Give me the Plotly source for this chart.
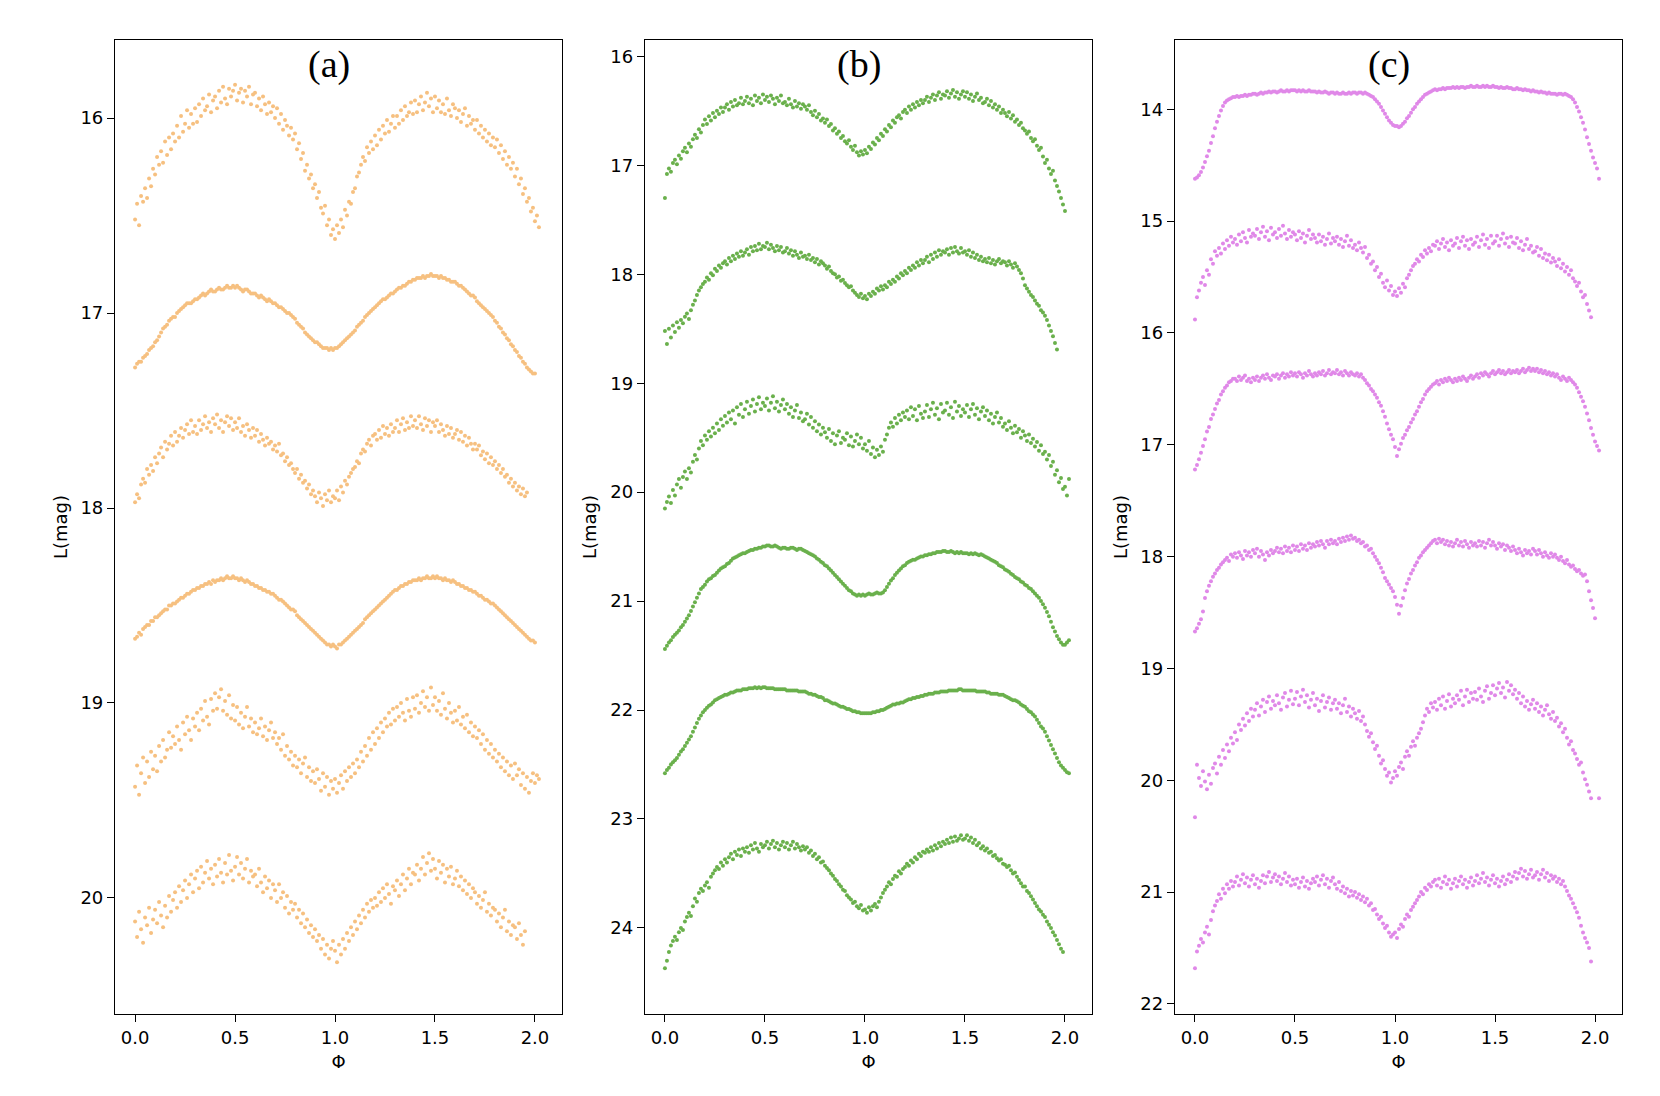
import plotly.graph_objects as go

# phase grid (two cycles, step 0.01)
phase = [0.00, 0.01, 0.02, 0.03, 0.04, 0.05, 0.06, 0.07, 0.08, 0.09,
         0.10, 0.11, 0.12, 0.13, 0.14, 0.15, 0.16, 0.17, 0.18, 0.19,
         0.20, 0.21, 0.22, 0.23, 0.24, 0.25, 0.26, 0.27, 0.28, 0.29,
         0.30, 0.31, 0.32, 0.33, 0.34, 0.35, 0.36, 0.37, 0.38, 0.39,
         0.40, 0.41, 0.42, 0.43, 0.44, 0.45, 0.46, 0.47, 0.48, 0.49,
         0.50, 0.51, 0.52, 0.53, 0.54, 0.55, 0.56, 0.57, 0.58, 0.59,
         0.60, 0.61, 0.62, 0.63, 0.64, 0.65, 0.66, 0.67, 0.68, 0.69,
         0.70, 0.71, 0.72, 0.73, 0.74, 0.75, 0.76, 0.77, 0.78, 0.79,
         0.80, 0.81, 0.82, 0.83, 0.84, 0.85, 0.86, 0.87, 0.88, 0.89,
         0.90, 0.91, 0.92, 0.93, 0.94, 0.95, 0.96, 0.97, 0.98, 0.99,
         1.00, 1.01, 1.02, 1.03, 1.04, 1.05, 1.06, 1.07, 1.08, 1.09,
         1.10, 1.11, 1.12, 1.13, 1.14, 1.15, 1.16, 1.17, 1.18, 1.19,
         1.20, 1.21, 1.22, 1.23, 1.24, 1.25, 1.26, 1.27, 1.28, 1.29,
         1.30, 1.31, 1.32, 1.33, 1.34, 1.35, 1.36, 1.37, 1.38, 1.39,
         1.40, 1.41, 1.42, 1.43, 1.44, 1.45, 1.46, 1.47, 1.48, 1.49,
         1.50, 1.51, 1.52, 1.53, 1.54, 1.55, 1.56, 1.57, 1.58, 1.59,
         1.60, 1.61, 1.62, 1.63, 1.64, 1.65, 1.66, 1.67, 1.68, 1.69,
         1.70, 1.71, 1.72, 1.73, 1.74, 1.75, 1.76, 1.77, 1.78, 1.79,
         1.80, 1.81, 1.82, 1.83, 1.84, 1.85, 1.86, 1.87, 1.88, 1.89,
         1.90, 1.91, 1.92, 1.93, 1.94, 1.95, 1.96, 1.97, 1.98, 1.99,
         2.00, 2.01, 2.02]

# panel (a)
a1 = [16.52, 16.44, 16.55, 16.40, 16.43, 16.36, 16.41, 16.31, 16.35, 16.26,
      16.29, 16.20, 16.24, 16.17, 16.23, 16.12, 16.19, 16.10, 16.16, 16.08,
      16.12, 16.04, 16.10, 15.99, 16.07, 16.03, 15.96, 16.05, 15.98, 16.03,
      15.95, 16.02, 15.93, 15.99, 15.90, 15.96, 15.94, 15.88, 15.97, 15.91,
      15.89, 15.95, 15.86, 15.92, 15.84, 15.90, 15.93, 15.85, 15.89, 15.86,
      15.83, 15.91, 15.87, 15.85, 15.92, 15.86, 15.89, 15.84, 15.93, 15.88,
      15.87, 15.94, 15.90, 15.96, 15.89, 15.93, 15.98, 15.92, 15.97, 15.94,
      16.00, 15.95, 16.03, 15.98, 16.06, 16.01, 16.04, 16.09, 16.05, 16.11,
      16.08, 16.16, 16.13, 16.21, 16.18, 16.27, 16.24, 16.31, 16.29, 16.36,
      16.34, 16.41, 16.38, 16.46, 16.49, 16.45, 16.55, 16.52, 16.60, 16.57,
      16.62, 16.55, 16.59, 16.52, 16.56, 16.47, 16.50, 16.43, 16.44, 16.38,
      16.36, 16.30, 16.28, 16.24, 16.20, 16.22, 16.15, 16.18, 16.12, 16.16,
      16.09, 16.14, 16.06, 16.11, 16.04, 16.08, 16.01, 16.07, 16.03, 15.99,
      16.05, 15.99, 16.03, 15.96, 16.01, 15.94, 15.99, 15.97, 15.92, 15.98,
      15.91, 15.97, 15.93, 15.89, 15.96, 15.92, 15.87, 15.94, 15.90, 15.97,
      15.89, 15.95, 15.91, 15.97, 15.93, 15.98, 15.90, 15.96, 15.99, 15.93,
      15.95, 16.00, 15.96, 16.02, 15.98, 15.95, 16.04, 15.99, 16.03, 16.01,
      16.06, 16.01, 16.08, 16.04, 16.10, 16.06, 16.12, 16.08, 16.14, 16.10,
      16.15, 16.11, 16.18, 16.14, 16.21, 16.17, 16.24, 16.20, 16.26, 16.23,
      16.30, 16.26, 16.34, 16.31, 16.39, 16.36, 16.43, 16.41, 16.48, 16.46,
      16.53, 16.50, 16.56]
a2 = [17.28, 17.26, 17.25, 17.25, 17.23, 17.22, 17.21, 17.19, 17.18, 17.17,
      17.15, 17.14, 17.12, 17.10, 17.08, 17.07, 17.06, 17.04, 17.03, 17.02,
      17.02, 17.00, 16.99, 16.98, 16.97, 16.96, 16.95, 16.95, 16.95, 16.94,
      16.93, 16.93, 16.92, 16.91, 16.90, 16.91, 16.90, 16.89, 16.88, 16.89,
      16.89, 16.88, 16.87, 16.88, 16.88, 16.87, 16.86, 16.87, 16.87, 16.86,
      16.87, 16.86, 16.87, 16.88, 16.89, 16.88, 16.88, 16.89, 16.90, 16.90,
      16.90, 16.91, 16.92, 16.91, 16.92, 16.93, 16.94, 16.93, 16.94, 16.95,
      16.95, 16.96, 16.97, 16.97, 16.98, 16.99, 17.00, 17.00, 17.01, 17.02,
      17.03, 17.05, 17.06, 17.07, 17.08, 17.10, 17.11, 17.12, 17.13, 17.14,
      17.15, 17.15, 17.16, 17.17, 17.18, 17.18, 17.18, 17.19, 17.18, 17.19,
      17.18, 17.18, 17.17, 17.16, 17.15, 17.14, 17.13, 17.12, 17.11, 17.10,
      17.09, 17.07, 17.06, 17.05, 17.04, 17.02, 17.01, 17.00, 16.99, 16.98,
      16.97, 16.96, 16.95, 16.94, 16.93, 16.93, 16.92, 16.91, 16.90, 16.90,
      16.89, 16.88, 16.87, 16.87, 16.86, 16.86, 16.85, 16.84, 16.84, 16.83,
      16.83, 16.82, 16.82, 16.82, 16.81, 16.82, 16.81, 16.81, 16.80, 16.81,
      16.81, 16.81, 16.82, 16.81, 16.82, 16.82, 16.83, 16.83, 16.84, 16.84,
      16.84, 16.85, 16.86, 16.86, 16.87, 16.88, 16.89, 16.90, 16.91, 16.91,
      16.92, 16.94, 16.95, 16.96, 16.97, 16.98, 16.99, 17.00, 17.01, 17.02,
      17.04, 17.05, 17.07, 17.08, 17.10, 17.11, 17.13, 17.14, 17.16, 17.17,
      17.19, 17.20, 17.22, 17.23, 17.25, 17.26, 17.28, 17.29, 17.30, 17.31,
      17.31, None, None]
a3 = [17.97, 17.93, 17.95, 17.88, 17.85, 17.87, 17.80, 17.83, 17.78, 17.81,
      17.74, 17.77, 17.72, 17.69, 17.74, 17.66, 17.70, 17.67, 17.63, 17.68,
      17.61, 17.66, 17.63, 17.59, 17.64, 17.60, 17.57, 17.62, 17.55, 17.61,
      17.58, 17.62, 17.55, 17.60, 17.57, 17.53, 17.59, 17.56, 17.61, 17.54,
      17.57, 17.52, 17.59, 17.55, 17.61, 17.56, 17.53, 17.58, 17.54, 17.60,
      17.56, 17.59, 17.54, 17.61, 17.58, 17.63, 17.57, 17.60, 17.64, 17.59,
      17.63, 17.60, 17.66, 17.62, 17.65, 17.68, 17.64, 17.67, 17.66, 17.70,
      17.68, 17.71, 17.67, 17.73, 17.72, 17.76, 17.74, 17.78, 17.77, 17.80,
      17.82, 17.80, 17.85, 17.83, 17.87, 17.86, 17.90, 17.88, 17.93, 17.91,
      17.94, 17.97, 17.92, 17.95, 17.99, 17.93, 17.96, 17.91, 17.97, 17.94,
      17.95, 17.91, 17.96, 17.89, 17.92, 17.86, 17.88, 17.84, 17.82, 17.80,
      17.79, 17.76, 17.77, 17.72, 17.70, 17.71, 17.67, 17.65, 17.68, 17.63,
      17.62, 17.65, 17.60, 17.64, 17.58, 17.62, 17.59, 17.63, 17.57, 17.61,
      17.59, 17.55, 17.61, 17.57, 17.54, 17.60, 17.56, 17.59, 17.53, 17.58,
      17.55, 17.59, 17.53, 17.57, 17.60, 17.54, 17.58, 17.55, 17.61, 17.56,
      17.58, 17.55, 17.61, 17.57, 17.60, 17.63, 17.58, 17.62, 17.59, 17.64,
      17.62, 17.60, 17.65, 17.61, 17.66, 17.63, 17.68, 17.64, 17.67, 17.70,
      17.67, 17.70, 17.68, 17.73, 17.71, 17.75, 17.72, 17.77, 17.74, 17.78,
      17.76, 17.80, 17.78, 17.82, 17.80, 17.84, 17.83, 17.87, 17.85, 17.89,
      17.87, 17.91, 17.89, 17.93, 17.90, 17.94, 17.92, None, None, None,
      None, None, None]
a4 = [18.67, 18.66, 18.64, 18.65, 18.62, 18.61, 18.60, 18.60, 18.58, 18.58,
      18.56, 18.56, 18.55, 18.54, 18.53, 18.52, 18.52, 18.50, 18.50, 18.49,
      18.49, 18.48, 18.47, 18.46, 18.46, 18.45, 18.44, 18.44, 18.43, 18.42,
      18.42, 18.41, 18.41, 18.40, 18.40, 18.39, 18.39, 18.38, 18.39, 18.37,
      18.38, 18.37, 18.37, 18.36, 18.37, 18.36, 18.35, 18.36, 18.36, 18.35,
      18.36, 18.36, 18.37, 18.36, 18.37, 18.38, 18.37, 18.38, 18.39, 18.39,
      18.40, 18.40, 18.41, 18.41, 18.42, 18.42, 18.43, 18.43, 18.44, 18.44,
      18.45, 18.46, 18.47, 18.47, 18.48, 18.49, 18.50, 18.51, 18.52, 18.52,
      18.53, 18.55, 18.56, 18.57, 18.58, 18.59, 18.60, 18.61, 18.62, 18.63,
      18.64, 18.65, 18.66, 18.67, 18.68, 18.69, 18.70, 18.70, 18.71, 18.70,
      18.71, 18.72, 18.70, 18.70, 18.69, 18.68, 18.67, 18.66, 18.65, 18.64,
      18.63, 18.62, 18.61, 18.60, 18.59, 18.57, 18.56, 18.55, 18.54, 18.53,
      18.52, 18.51, 18.50, 18.49, 18.48, 18.47, 18.46, 18.45, 18.44, 18.43,
      18.42, 18.42, 18.41, 18.40, 18.40, 18.39, 18.39, 18.38, 18.38, 18.37,
      18.37, 18.37, 18.36, 18.37, 18.36, 18.36, 18.35, 18.36, 18.36, 18.35,
      18.36, 18.35, 18.36, 18.36, 18.37, 18.36, 18.37, 18.37, 18.38, 18.37,
      18.38, 18.39, 18.39, 18.40, 18.40, 18.41, 18.41, 18.42, 18.42, 18.43,
      18.43, 18.44, 18.45, 18.45, 18.46, 18.47, 18.47, 18.48, 18.49, 18.49,
      18.50, 18.51, 18.52, 18.53, 18.54, 18.55, 18.56, 18.57, 18.58, 18.59,
      18.60, 18.61, 18.62, 18.63, 18.64, 18.65, 18.66, 18.67, 18.68, 18.68,
      18.69, None, None]
a5 = [19.43, 19.32, 19.47, 19.36, 19.28, 19.41, 19.30, 19.38, 19.25, 19.34,
      19.27, 19.35, 19.22, 19.30, 19.19, 19.28, 19.24, 19.15, 19.23, 19.17,
      19.21, 19.12, 19.19, 19.24, 19.10, 19.16, 19.07, 19.14, 19.19, 19.08,
      19.12, 19.05, 19.14, 19.03, 19.09, 18.99, 19.07, 19.11, 18.98, 19.04,
      18.95, 19.03, 18.97, 18.93, 19.04, 18.99, 19.06, 18.96, 19.08, 19.01,
      19.09, 19.02, 19.11, 19.05, 19.13, 19.07, 19.02, 19.12, 19.08, 19.15,
      19.10, 19.16, 19.13, 19.08, 19.17, 19.12, 19.19, 19.14, 19.10, 19.18,
      19.15, 19.21, 19.18, 19.24, 19.16, 19.27, 19.22, 19.29, 19.25, 19.32,
      19.27, 19.33, 19.29, 19.36, 19.31, 19.28, 19.38, 19.33, 19.40, 19.35,
      19.41, 19.34, 19.39, 19.45, 19.36, 19.43, 19.38, 19.47, 19.40, 19.44,
      19.39, 19.46, 19.41, 19.37, 19.44, 19.35, 19.40, 19.33, 19.38, 19.31,
      19.36, 19.29, 19.33, 19.25, 19.30, 19.22, 19.27, 19.18, 19.24, 19.15,
      19.21, 19.13, 19.18, 19.10, 19.15, 19.08, 19.12, 19.05, 19.11, 19.03,
      19.09, 19.02, 19.07, 19.00, 19.05, 19.09, 18.98, 19.04, 19.07, 18.97,
      19.03, 18.96, 19.05, 19.00, 18.94, 19.02, 18.97, 19.04, 18.92, 19.01,
      18.97, 19.04, 18.99, 19.06, 18.95, 19.03, 19.08, 19.00, 19.05, 19.10,
      19.04, 19.09, 19.02, 19.11, 19.07, 19.13, 19.06, 19.15, 19.10, 19.17,
      19.12, 19.18, 19.14, 19.21, 19.16, 19.24, 19.19, 19.26, 19.21, 19.28,
      19.24, 19.30, 19.26, 19.33, 19.28, 19.35, 19.30, 19.37, 19.32, 19.39,
      19.31, 19.37, 19.34, 19.42, 19.36, 19.44, 19.38, 19.46, 19.40, 19.36,
      19.41, 19.37, 19.39]
a6 = [20.12, 20.20, 20.07, 20.16, 20.23, 20.10, 20.14, 20.05, 20.18, 20.11,
      20.06, 20.13, 20.02, 20.09, 20.15, 20.04, 20.10, 19.99, 20.07, 20.01,
      19.97, 20.05, 19.94, 20.02, 19.96, 19.91, 20.00, 19.93, 19.88, 19.97,
      19.90, 19.86, 19.95, 19.84, 19.92, 19.87, 19.81, 19.90, 19.85, 19.93,
      19.83, 19.89, 19.80, 19.87, 19.92, 19.82, 19.88, 19.78, 19.86, 19.91,
      19.84, 19.79, 19.88, 19.82, 19.90, 19.85, 19.80, 19.92, 19.86, 19.89,
      19.88, 19.94, 19.85, 19.92, 19.97, 19.89, 19.95, 19.91, 20.00, 19.93,
      19.96, 20.02, 19.93, 20.00, 19.97, 20.05, 19.99, 20.08, 20.02, 20.06,
      20.03, 20.10, 20.06, 20.13, 20.08, 20.15, 20.11, 20.18, 20.14, 20.20,
      20.16, 20.22, 20.19, 20.26, 20.21, 20.29, 20.24, 20.31, 20.26, 20.22,
      20.27, 20.33, 20.24, 20.29, 20.21, 20.26, 20.18, 20.22, 20.15, 20.19,
      20.12, 20.16, 20.09, 20.13, 20.06, 20.10, 20.03, 20.07, 20.01, 20.05,
      20.00, 20.04, 19.97, 20.02, 19.95, 20.00, 19.93, 19.98, 20.03, 19.94,
      19.96, 19.91, 19.99, 19.93, 19.88, 19.96, 19.90, 19.85, 19.93, 19.87,
      19.88, 19.83, 19.91, 19.85, 19.79, 19.88, 19.82, 19.77, 19.86, 19.80,
      19.85, 19.90, 19.81, 19.87, 19.83, 19.92, 19.85, 19.89, 19.84, 19.93,
      19.90, 19.86, 19.94, 19.89, 19.96, 19.91, 19.98, 19.93, 20.00, 19.95,
      19.97, 20.03, 19.99, 20.05, 20.01, 19.97, 20.07, 20.03, 20.09, 20.05,
      20.06, 20.12, 20.08, 20.15, 20.10, 20.06, 20.17, 20.12, 20.19, 20.14,
      20.15, 20.21, 20.13, 20.19, 20.24, 20.17, None, None, None, None,
      None, None, None]

# panel (b)
b1 = [17.30, 17.08, 17.03, 17.06, 16.98, 16.95, 16.99, 16.91, 16.94, 16.87,
      16.84, 16.88, 16.80, 16.83, 16.76, 16.72, 16.75, 16.67, 16.70, 16.63,
      16.58, 16.62, 16.55, 16.59, 16.52, 16.56, 16.50, 16.53, 16.47, 16.51,
      16.47, 16.44, 16.49, 16.42, 16.46, 16.40, 16.45, 16.43, 16.38, 16.44,
      16.41, 16.37, 16.43, 16.39, 16.45, 16.36, 16.41, 16.38, 16.43, 16.35,
      16.40, 16.37, 16.42, 16.36, 16.39, 16.44, 16.38, 16.41, 16.36, 16.43,
      16.42, 16.45, 16.39, 16.44, 16.47, 16.41, 16.46, 16.43, 16.48, 16.44,
      16.46, 16.49, 16.45, 16.51, 16.54, 16.50, 16.56, 16.53, 16.59, 16.57,
      16.61, 16.58, 16.64, 16.62, 16.68, 16.66, 16.71, 16.69, 16.75, 16.73,
      16.78, 16.80, 16.77, 16.83, 16.86, 16.82, 16.88, 16.91, 16.87, 16.90,
      16.86, 16.89, 16.83, 16.85, 16.79, 16.81, 16.75, 16.77, 16.71, 16.73,
      16.67, 16.69, 16.63, 16.65, 16.59, 16.61, 16.56, 16.54, 16.57, 16.51,
      16.49, 16.52, 16.46, 16.49, 16.44, 16.47, 16.42, 16.45, 16.40, 16.43,
      16.40, 16.37, 16.42, 16.38, 16.35, 16.40, 16.36, 16.33, 16.39, 16.35,
      16.36, 16.32, 16.38, 16.34, 16.31, 16.37, 16.33, 16.39, 16.35, 16.32,
      16.37, 16.33, 16.39, 16.35, 16.41, 16.37, 16.34, 16.40, 16.38, 16.43,
      16.42, 16.39, 16.45, 16.41, 16.47, 16.44, 16.49, 16.46, 16.52, 16.49,
      16.52, 16.55, 16.51, 16.57, 16.54, 16.60, 16.58, 16.63, 16.61, 16.66,
      16.68, 16.71, 16.69, 16.75, 16.78, 16.76, 16.82, 16.86, 16.84, 16.92,
      16.98, 16.95, 17.03, 17.08, 17.05, 17.14, 17.19, 17.24, 17.30, 17.36,
      17.42, None, None]
b2 = [18.52, 18.64, 18.50, 18.58, 18.47, 18.53, 18.44, 18.49, 18.42, 18.45,
      18.39, 18.36, 18.41, 18.33, 18.28, 18.24, 18.19, 18.15, 18.12, 18.09,
      18.07, 18.03, 18.05, 17.99, 18.01, 17.95, 17.97, 17.92, 17.94, 17.90,
      17.88, 17.91, 17.85, 17.88, 17.83, 17.86, 17.81, 17.84, 17.79, 17.83,
      17.80, 17.77, 17.82, 17.75, 17.79, 17.74, 17.78, 17.72, 17.77, 17.74,
      17.75, 17.71, 17.77, 17.73, 17.76, 17.79, 17.74, 17.78, 17.75, 17.80,
      17.79, 17.76, 17.81, 17.78, 17.83, 17.79, 17.82, 17.85, 17.80, 17.84,
      17.83, 17.86, 17.82, 17.87, 17.85, 17.89, 17.86, 17.91, 17.88, 17.90,
      17.92, 17.95, 17.93, 17.97, 17.99, 18.00, 18.03, 18.02, 18.06, 18.05,
      18.08, 18.10, 18.12, 18.11, 18.15, 18.17, 18.19, 18.21, 18.18, 18.22,
      18.20, 18.23, 18.18, 18.20, 18.16, 18.18, 18.13, 18.15, 18.11, 18.14,
      18.10, 18.12, 18.07, 18.09, 18.05, 18.07, 18.02, 18.04, 17.99, 18.01,
      17.97, 17.99, 17.94, 17.96, 17.92, 17.94, 17.89, 17.92, 17.87, 17.90,
      17.87, 17.84, 17.89, 17.82, 17.86, 17.80, 17.84, 17.78, 17.82, 17.79,
      17.80, 17.77, 17.82, 17.76, 17.80, 17.75, 17.79, 17.81, 17.76, 17.80,
      17.79, 17.82, 17.78, 17.84, 17.80, 17.85, 17.82, 17.87, 17.84, 17.88,
      17.86, 17.89, 17.85, 17.90, 17.87, 17.91, 17.88, 17.86, 17.90, 17.88,
      17.89, 17.92, 17.88, 17.91, 17.94, 17.90, 17.93, 17.96, 17.99, 18.04,
      18.10, 18.13, 18.16, 18.19, 18.21, 18.24, 18.27, 18.29, 18.33, 18.35,
      18.38, 18.42, 18.47, 18.52, 18.57, 18.63, 18.69, None, None, None,
      None, None, None]
b3 = [20.15, 20.09, 20.04, 20.10, 19.98, 20.03, 19.93, 19.88, 19.96, 19.86,
      19.81, 19.88, 19.78, 19.82, 19.72, 19.66, 19.70, 19.60, 19.53, 19.57,
      19.48, 19.52, 19.44, 19.49, 19.41, 19.46, 19.37, 19.43, 19.33, 19.39,
      19.30, 19.36, 19.27, 19.33, 19.25, 19.37, 19.22, 19.29, 19.19, 19.31,
      19.24, 19.17, 19.28, 19.21, 19.15, 19.26, 19.19, 19.13, 19.24, 19.18,
      19.21, 19.14, 19.25, 19.18, 19.12, 19.23, 19.17, 19.26, 19.20, 19.15,
      19.24, 19.19, 19.28, 19.22, 19.31, 19.25, 19.20, 19.32, 19.27, 19.35,
      19.33, 19.28, 19.38, 19.31, 19.41, 19.35, 19.44, 19.38, 19.47, 19.41,
      19.45, 19.50, 19.42, 19.53, 19.46, 19.56, 19.48, 19.44, 19.55, 19.50,
      19.52, 19.46, 19.57, 19.49, 19.58, 19.53, 19.47, 19.56, 19.50, 19.60,
      19.56, 19.62, 19.53, 19.65, 19.59, 19.68, 19.61, 19.66, 19.58, 19.63,
      19.52, 19.47, 19.41, 19.36, 19.40, 19.32, 19.37, 19.29, 19.34, 19.27,
      19.31, 19.25, 19.33, 19.22, 19.30, 19.24, 19.34, 19.21, 19.28, 19.32,
      19.26, 19.20, 19.31, 19.24, 19.18, 19.29, 19.23, 19.33, 19.19, 19.27,
      19.25, 19.18, 19.29, 19.22, 19.32, 19.17, 19.26, 19.21, 19.30, 19.24,
      19.27, 19.20, 19.31, 19.24, 19.19, 19.29, 19.23, 19.33, 19.26, 19.22,
      19.30, 19.25, 19.34, 19.28, 19.37, 19.31, 19.27, 19.36, 19.32, 19.40,
      19.37, 19.43, 19.35, 19.41, 19.46, 19.39, 19.45, 19.42, 19.50, 19.44,
      19.48, 19.53, 19.47, 19.55, 19.51, 19.58, 19.54, 19.62, 19.57, 19.65,
      19.63, 19.70, 19.66, 19.76, 19.72, 19.84, 19.80, 19.91, 19.87, 19.97,
      19.95, 20.03, 19.88]
b4 = [21.44, 21.41, 21.38, 21.36, 21.33, 21.31, 21.29, 21.27, 21.24, 21.22,
      21.19, 21.16, 21.13, 21.09, 21.05, 21.01, 20.97, 20.93, 20.89, 20.87,
      20.85, 20.82, 20.80, 20.79, 20.77, 20.76, 20.74, 20.72, 20.70, 20.69,
      20.68, 20.66, 20.65, 20.63, 20.61, 20.60, 20.59, 20.58, 20.57, 20.56,
      20.56, 20.55, 20.54, 20.53, 20.53, 20.52, 20.52, 20.51, 20.51, 20.50,
      20.50, 20.49, 20.49, 20.50, 20.50, 20.49, 20.50, 20.51, 20.52, 20.51,
      20.51, 20.52, 20.52, 20.51, 20.51, 20.52, 20.53, 20.52, 20.52, 20.53,
      20.54, 20.55, 20.56, 20.57, 20.58, 20.59, 20.61, 20.62, 20.64, 20.65,
      20.67, 20.68, 20.70, 20.72, 20.74, 20.76, 20.78, 20.80, 20.82, 20.84,
      20.86, 20.88, 20.90, 20.91, 20.93, 20.94, 20.95, 20.94, 20.95, 20.94,
      20.95, 20.94, 20.93, 20.94, 20.94, 20.93, 20.92, 20.93, 20.93, 20.92,
      20.90, 20.87, 20.84, 20.81, 20.79, 20.76, 20.74, 20.72, 20.70, 20.68,
      20.67, 20.65, 20.64, 20.63, 20.62, 20.62, 20.61, 20.60, 20.59, 20.59,
      20.58, 20.58, 20.57, 20.57, 20.56, 20.56, 20.55, 20.55, 20.55, 20.54,
      20.54, 20.55, 20.55, 20.54, 20.55, 20.56, 20.55, 20.56, 20.55, 20.56,
      20.56, 20.56, 20.57, 20.56, 20.57, 20.56, 20.57, 20.58, 20.57, 20.58,
      20.59, 20.60, 20.61, 20.62, 20.63, 20.64, 20.65, 20.67, 20.68, 20.69,
      20.71, 20.72, 20.73, 20.75, 20.76, 20.78, 20.79, 20.80, 20.82, 20.83,
      20.85, 20.86, 20.88, 20.89, 20.91, 20.93, 20.95, 20.97, 21.00, 21.03,
      21.06, 21.10, 21.14, 21.19, 21.24, 21.28, 21.32, 21.35, 21.38, 21.40,
      21.40, 21.38, 21.36]
b5 = [22.58, 22.55, 22.53, 22.50, 22.48, 22.46, 22.44, 22.41, 22.38, 22.36,
      22.33, 22.30, 22.27, 22.24, 22.20, 22.16, 22.12, 22.08, 22.05, 22.02,
      22.00, 21.98, 21.96, 21.95, 21.93, 21.91, 21.90, 21.89, 21.88, 21.87,
      21.86, 21.86, 21.85, 21.84, 21.84, 21.83, 21.82, 21.82, 21.82, 21.81,
      21.81, 21.81, 21.80, 21.80, 21.80, 21.79, 21.80, 21.79, 21.80, 21.79,
      21.79, 21.80, 21.80, 21.80, 21.80, 21.81, 21.81, 21.81, 21.81, 21.81,
      21.81, 21.82, 21.82, 21.82, 21.82, 21.82, 21.82, 21.83, 21.83, 21.83,
      21.83, 21.84, 21.85, 21.85, 21.86, 21.86, 21.87, 21.88, 21.88, 21.89,
      21.91, 21.91, 21.92, 21.93, 21.94, 21.94, 21.95, 21.96, 21.97, 21.97,
      21.98, 21.99, 21.99, 22.00, 22.01, 22.01, 22.02, 22.02, 22.03, 22.03,
      22.03, 22.03, 22.03, 22.03, 22.02, 22.02, 22.01, 22.01, 22.00, 22.00,
      21.99, 21.98, 21.97, 21.96, 21.95, 21.95, 21.94, 21.94, 21.93, 21.93,
      21.92, 21.91, 21.90, 21.90, 21.89, 21.89, 21.88, 21.88, 21.87, 21.87,
      21.86, 21.86, 21.85, 21.85, 21.85, 21.84, 21.84, 21.84, 21.83, 21.83,
      21.83, 21.83, 21.82, 21.82, 21.82, 21.82, 21.82, 21.81, 21.81, 21.82,
      21.82, 21.82, 21.82, 21.82, 21.82, 21.82, 21.83, 21.83, 21.83, 21.83,
      21.83, 21.84, 21.84, 21.85, 21.85, 21.85, 21.85, 21.86, 21.86, 21.86,
      21.87, 21.88, 21.89, 21.90, 21.91, 21.91, 21.92, 21.93, 21.95, 21.96,
      21.97, 21.99, 22.01, 22.02, 22.04, 22.06, 22.09, 22.12, 22.15, 22.17,
      22.20, 22.24, 22.28, 22.32, 22.36, 22.40, 22.44, 22.48, 22.51, 22.53,
      22.55, 22.57, 22.58]
b6 = [24.37, 24.30, 24.22, 24.16, 24.12, 24.08, 24.11, 24.04, 24.00, 24.02,
      23.94, 23.90, 23.86, 23.89, 23.80, 23.73, 23.76, 23.68, 23.64, 23.66,
      23.61, 23.58, 23.63, 23.53, 23.50, 23.47, 23.44, 23.46, 23.40, 23.43,
      23.37, 23.40, 23.35, 23.32, 23.37, 23.30, 23.33, 23.28, 23.34, 23.27,
      23.30, 23.26, 23.31, 23.24, 23.28, 23.22, 23.27, 23.30, 23.23, 23.26,
      23.24, 23.21, 23.27, 23.23, 23.20, 23.26, 23.22, 23.28, 23.24, 23.21,
      23.26, 23.22, 23.28, 23.24, 23.21, 23.27, 23.23, 23.26, 23.29, 23.25,
      23.28, 23.26, 23.31, 23.29, 23.34, 23.32, 23.37, 23.35, 23.40, 23.39,
      23.43, 23.45, 23.47, 23.50, 23.52, 23.55, 23.57, 23.60, 23.62, 23.65,
      23.66, 23.70, 23.72, 23.74, 23.77, 23.76, 23.80, 23.82, 23.79, 23.84,
      23.83, 23.86, 23.81, 23.84, 23.80, 23.78, 23.81, 23.76, 23.72, 23.68,
      23.65, 23.62, 23.58, 23.60, 23.55, 23.52, 23.53, 23.48, 23.50, 23.46,
      23.44, 23.41, 23.43, 23.38, 23.40, 23.35, 23.37, 23.32, 23.34, 23.30,
      23.31, 23.28, 23.30, 23.26, 23.29, 23.24, 23.27, 23.22, 23.25, 23.21,
      23.23, 23.19, 23.22, 23.17, 23.21, 23.16, 23.20, 23.18, 23.15, 23.19,
      23.18, 23.15, 23.20, 23.17, 23.22, 23.19, 23.24, 23.22, 23.27, 23.25,
      23.29, 23.27, 23.31, 23.30, 23.34, 23.33, 23.36, 23.38, 23.37, 23.41,
      23.42, 23.44, 23.43, 23.47, 23.50, 23.49, 23.53, 23.56, 23.59, 23.62,
      23.62, 23.66, 23.68, 23.71, 23.74, 23.77, 23.80, 23.83, 23.85, 23.88,
      23.90, 23.94, 23.97, 24.00, 24.04, 24.07, 24.11, 24.15, 24.19, 24.22,
      None, None, None]

# panel (c)
c1 = [14.62, 14.61, 14.59, 14.56, 14.52, 14.47, 14.42, 14.37, 14.30, 14.24,
      14.17, 14.11, 14.06, 14.01, 13.97, 13.94, 13.92, 13.91, 13.90, 13.89,
      13.89, 13.88, 13.89, 13.88, 13.88, 13.87, 13.88, 13.87, 13.87, 13.86,
      13.86, 13.87, 13.86, 13.85, 13.86, 13.85, 13.85, 13.84, 13.85, 13.84,
      13.84, 13.85, 13.84, 13.83, 13.84, 13.84, 13.83, 13.84, 13.83, 13.83,
      13.83, 13.84, 13.83, 13.84, 13.83, 13.84, 13.84, 13.83, 13.84, 13.84,
      13.84, 13.85, 13.84, 13.85, 13.85, 13.84, 13.85, 13.86, 13.85, 13.85,
      13.86, 13.85, 13.86, 13.86, 13.85, 13.86, 13.86, 13.85, 13.86, 13.85,
      13.85, 13.86, 13.85, 13.85, 13.86, 13.85, 13.86, 13.87, 13.88, 13.89,
      13.91, 13.93, 13.95, 13.98, 14.01, 14.04, 14.07, 14.10, 14.12, 14.14,
      14.15, 14.15, 14.16, 14.15, 14.13, 14.11, 14.08, 14.06, 14.03, 14.00,
      13.98, 13.95, 13.93, 13.91, 13.89, 13.87, 13.86, 13.85, 13.84, 13.83,
      13.82, 13.83, 13.82, 13.82, 13.81, 13.82, 13.81, 13.81, 13.81, 13.80,
      13.81, 13.80, 13.81, 13.80, 13.80, 13.81, 13.80, 13.80, 13.79, 13.80,
      13.80, 13.79, 13.80, 13.80, 13.79, 13.80, 13.79, 13.80, 13.80, 13.79,
      13.80, 13.80, 13.81, 13.80, 13.81, 13.81, 13.80, 13.81, 13.81, 13.82,
      13.82, 13.81, 13.82, 13.82, 13.83, 13.82, 13.83, 13.83, 13.84, 13.83,
      13.84, 13.84, 13.85, 13.84, 13.85, 13.85, 13.86, 13.85, 13.86, 13.86,
      13.86, 13.87, 13.86, 13.86, 13.87, 13.86, 13.87, 13.88, 13.89, 13.91,
      13.94, 13.98, 14.02, 14.07, 14.12, 14.18, 14.25, 14.31, 14.37, 14.43,
      14.48, 14.53, 14.62]
c2 = [15.88, 15.68, 15.62, 15.55, 15.50, 15.57, 15.44, 15.48, 15.34, 15.38,
      15.27, 15.31, 15.24, 15.29, 15.20, 15.25, 15.17, 15.22, 15.14, 15.19,
      15.16, 15.21, 15.12, 15.18, 15.10, 15.15, 15.19, 15.08, 15.14, 15.11,
      15.13, 15.07, 15.16, 15.10, 15.05, 15.14, 15.09, 15.17, 15.06, 15.12,
      15.10, 15.15, 15.07, 15.13, 15.04, 15.11, 15.16, 15.08, 15.14, 15.10,
      15.12, 15.17, 15.09, 15.15, 15.11, 15.19, 15.13, 15.08, 15.16, 15.12,
      15.15, 15.19, 15.12, 15.18, 15.14, 15.21, 15.16, 15.11, 15.20, 15.15,
      15.18, 15.14, 15.21, 15.16, 15.23, 15.18, 15.13, 15.22, 15.17, 15.24,
      15.21, 15.26, 15.19, 15.24, 15.28, 15.23, 15.33, 15.30, 15.38, 15.36,
      15.44, 15.41, 15.50, 15.47, 15.55, 15.59, 15.53, 15.62, 15.58, 15.66,
      15.63, 15.67, 15.60, 15.64, 15.56, 15.59, 15.51, 15.48, 15.44, 15.40,
      15.38, 15.34, 15.36, 15.30, 15.32, 15.26, 15.29, 15.24, 15.27, 15.21,
      15.22, 15.18, 15.25, 15.20, 15.16, 15.23, 15.19, 15.26, 15.17, 15.22,
      15.20, 15.15, 15.24, 15.18, 15.14, 15.22, 15.17, 15.25, 15.16, 15.21,
      15.19, 15.14, 15.23, 15.17, 15.12, 15.21, 15.16, 15.24, 15.13, 15.20,
      15.18, 15.13, 15.22, 15.16, 15.11, 15.20, 15.15, 15.23, 15.14, 15.19,
      15.20, 15.15, 15.24, 15.18, 15.26, 15.21, 15.16, 15.25, 15.22, 15.28,
      15.27, 15.23, 15.31, 15.25, 15.33, 15.29, 15.35, 15.30, 15.37, 15.33,
      15.36, 15.40, 15.34, 15.42, 15.38, 15.45, 15.41, 15.48, 15.44, 15.51,
      15.54, 15.58, 15.55, 15.63, 15.68, 15.66, 15.74, 15.80, 15.86, None,
      None, None, None]
c3 = [17.22, 17.18, 17.13, 17.07, 17.01, 16.95, 16.88, 16.84, 16.77, 16.73,
      16.68, 16.63, 16.60, 16.55, 16.52, 16.49, 16.47, 16.44, 16.43, 16.41,
      16.41, 16.43, 16.39, 16.42, 16.40, 16.38, 16.43, 16.41, 16.44, 16.40,
      16.42, 16.39, 16.43, 16.40, 16.38, 16.41, 16.37, 16.40, 16.42, 16.38,
      16.39, 16.37, 16.41, 16.38, 16.36, 16.40, 16.37, 16.39, 16.35, 16.38,
      16.36, 16.39, 16.35, 16.37, 16.40, 16.36, 16.38, 16.34, 16.37, 16.39,
      16.36, 16.38, 16.35, 16.37, 16.34, 16.38, 16.36, 16.33, 16.37, 16.35,
      16.36, 16.33, 16.37, 16.35, 16.38, 16.34, 16.36, 16.38, 16.35, 16.37,
      16.38, 16.36, 16.39, 16.37, 16.40, 16.42, 16.45, 16.47, 16.50, 16.52,
      16.55, 16.58, 16.62, 16.65, 16.70, 16.75, 16.81, 16.86, 16.91, 16.95,
      17.02, 17.10, 17.04, 16.99, 16.94, 16.91, 16.87, 16.84, 16.80, 16.77,
      16.73, 16.70, 16.66, 16.62, 16.59, 16.55, 16.52, 16.50, 16.48, 16.46,
      16.45, 16.43, 16.46, 16.42, 16.44, 16.41, 16.43, 16.40, 16.42, 16.44,
      16.41, 16.43, 16.40, 16.42, 16.39, 16.41, 16.43, 16.40, 16.38, 16.41,
      16.39, 16.37, 16.40, 16.36, 16.38, 16.35, 16.37, 16.39, 16.36, 16.34,
      16.37, 16.35, 16.33, 16.36, 16.34, 16.37, 16.35, 16.33, 16.36, 16.34,
      16.35, 16.33, 16.36, 16.34, 16.32, 16.35, 16.33, 16.31, 16.34, 16.32,
      16.34, 16.32, 16.35, 16.33, 16.36, 16.34, 16.37, 16.35, 16.38, 16.36,
      16.39, 16.37, 16.40, 16.42, 16.39, 16.41, 16.43, 16.40, 16.42, 16.44,
      16.46, 16.49, 16.53, 16.57, 16.61, 16.66, 16.72, 16.78, 16.85, 16.91,
      16.97, 17.01, 17.05]
c4 = [18.67, 18.64, 18.60, 18.56, 18.49, 18.37, 18.31, 18.26, 18.22, 18.18,
      18.15, 18.12, 18.10, 18.07, 18.05, 18.03, 18.01, 18.04, 17.98, 18.00,
      17.97, 18.01, 17.96, 17.99, 18.02, 17.95, 17.99, 17.96, 18.00, 17.94,
      17.97, 17.93, 18.00, 17.95, 17.98, 18.03, 17.96, 17.99, 17.94, 17.97,
      17.95, 17.92, 17.96, 17.93, 17.97, 17.91, 17.95, 17.92, 17.96, 17.90,
      17.94, 17.91, 17.95, 17.89, 17.93, 17.90, 17.94, 17.88, 17.92, 17.89,
      17.91, 17.87, 17.90, 17.86, 17.89, 17.92, 17.86, 17.89, 17.85, 17.88,
      17.86, 17.89, 17.84, 17.87, 17.83, 17.86, 17.82, 17.85, 17.81, 17.84,
      17.83, 17.86, 17.85, 17.88, 17.87, 17.91, 17.90, 17.94, 17.93, 17.97,
      18.00, 18.03, 18.06, 18.10, 18.14, 18.19, 18.22, 18.25, 18.28, 18.31,
      18.36, 18.43, 18.51, 18.44, 18.37, 18.30, 18.24, 18.20, 18.15, 18.12,
      18.08, 18.05, 18.01, 17.99, 17.96, 17.94, 17.92, 17.90, 17.88, 17.86,
      17.85, 17.88, 17.84, 17.87, 17.85, 17.89, 17.86, 17.90, 17.87, 17.91,
      17.88, 17.85, 17.90, 17.87, 17.91, 17.86, 17.89, 17.92, 17.87, 17.90,
      17.88, 17.91, 17.86, 17.90, 17.87, 17.92, 17.88, 17.85, 17.90, 17.87,
      17.90, 17.93, 17.88, 17.91, 17.89, 17.94, 17.90, 17.92, 17.95, 17.91,
      17.94, 17.97, 17.93, 17.96, 17.99, 17.94, 17.97, 17.95, 17.98, 17.93,
      17.95, 17.98, 17.94, 17.97, 18.00, 17.96, 17.99, 18.01, 17.97, 18.00,
      17.98, 18.01, 18.03, 18.00, 18.04, 18.06, 18.03, 18.07, 18.09, 18.08,
      18.11, 18.13, 18.12, 18.15, 18.17, 18.16, 18.22, 18.31, 18.39, 18.46,
      18.55, None, None]
c5 = [20.33, 19.86, 19.98, 20.05, 19.92, 20.01, 20.08, 19.95, 20.03, 19.89,
      19.85, 19.94, 19.79, 19.86, 19.73, 19.80, 19.68, 19.74, 19.62, 19.67,
      19.57, 19.64, 19.50, 19.55, 19.45, 19.51, 19.40, 19.47, 19.36, 19.43,
      19.37, 19.31, 19.42, 19.34, 19.28, 19.39, 19.30, 19.25, 19.36, 19.29,
      19.33, 19.24, 19.31, 19.37, 19.26, 19.22, 19.34, 19.28, 19.20, 19.32,
      19.27, 19.21, 19.33, 19.25, 19.19, 19.30, 19.24, 19.35, 19.28, 19.22,
      19.33, 19.27, 19.38, 19.29, 19.24, 19.35, 19.30, 19.26, 19.37, 19.31,
      19.28, 19.36, 19.31, 19.40, 19.33, 19.27, 19.39, 19.34, 19.43, 19.36,
      19.40, 19.45, 19.38, 19.47, 19.43, 19.50, 19.56, 19.61, 19.58, 19.66,
      19.72, 19.69, 19.78, 19.85, 19.82, 19.90, 19.96, 19.93, 20.02, 19.98,
      19.92, 19.96, 19.88, 19.84, 19.90, 19.79, 19.74, 19.78, 19.70, 19.65,
      19.69, 19.62, 19.58, 19.54, 19.48, 19.42, 19.36, 19.39, 19.31, 19.35,
      19.30, 19.37, 19.27, 19.33, 19.25, 19.36, 19.29, 19.23, 19.34, 19.27,
      19.31, 19.24, 19.28, 19.20, 19.33, 19.25, 19.19, 19.30, 19.22, 19.27,
      19.21, 19.28, 19.18, 19.25, 19.30, 19.20, 19.16, 19.27, 19.22, 19.15,
      19.24, 19.18, 19.13, 19.22, 19.17, 19.26, 19.12, 19.20, 19.15, 19.23,
      19.19, 19.27, 19.22, 19.31, 19.25, 19.34, 19.29, 19.37, 19.32, 19.28,
      19.36, 19.31, 19.39, 19.34, 19.42, 19.37, 19.33, 19.41, 19.45, 19.39,
      19.47, 19.44, 19.52, 19.49, 19.57, 19.54, 19.62, 19.68, 19.65, 19.73,
      19.76, 19.81, 19.86, 19.84, 19.93, 19.99, 20.04, 20.10, 20.16, None,
      None, None, 20.16]
c6 = [21.68, 21.53, 21.48, 21.42, 21.45, 21.36, 21.31, 21.38, 21.25, 21.17,
      21.12, 21.08, 21.02, 21.06, 20.97, 21.01, 20.93, 20.97, 20.90, 20.95,
      20.91, 20.86, 20.94, 20.89, 20.84, 20.92, 20.87, 20.95, 20.89, 20.85,
      20.93, 20.88, 20.96, 20.90, 20.85, 20.92, 20.86, 20.82, 20.91, 20.87,
      20.84, 20.90, 20.86, 20.93, 20.88, 20.83, 20.91, 20.86, 20.94, 20.89,
      20.93, 20.88, 20.96, 20.91, 20.87, 20.95, 20.90, 20.97, 20.92, 20.88,
      20.91, 20.86, 20.94, 20.89, 20.85, 20.93, 20.88, 20.96, 20.90, 20.87,
      20.93, 20.97, 20.91, 20.99, 20.95, 21.01, 20.97, 21.04, 20.99, 21.03,
      21.00, 21.05, 21.02, 21.07, 21.04, 21.09, 21.06, 21.12, 21.10, 21.16,
      21.15, 21.20, 21.24, 21.22, 21.28, 21.32, 21.30, 21.36, 21.40, 21.38,
      21.36, 21.41, 21.33, 21.29, 21.31, 21.24, 21.20, 21.22, 21.16, 21.13,
      21.10, 21.07, 21.04, 21.00, 21.02, 20.96, 20.98, 20.93, 20.95, 20.91,
      20.89, 20.94, 20.88, 20.96, 20.91, 20.86, 20.93, 20.89, 20.97, 20.92,
      20.88, 20.95, 20.90, 20.86, 20.93, 20.89, 20.96, 20.91, 20.87, 20.94,
      20.90, 20.85, 20.92, 20.88, 20.83, 20.91, 20.87, 20.94, 20.89, 20.85,
      20.92, 20.88, 20.95, 20.90, 20.86, 20.93, 20.89, 20.84, 20.91, 20.86,
      20.82, 20.88, 20.83, 20.79, 20.86, 20.81, 20.88, 20.84, 20.80, 20.87,
      20.85, 20.82, 20.89, 20.84, 20.80, 20.87, 20.83, 20.90, 20.85, 20.88,
      20.86, 20.91, 20.88, 20.93, 20.90, 20.95, 20.99, 21.03, 21.06, 21.10,
      21.14, 21.18, 21.23, 21.30, 21.36, 21.41, 21.45, 21.50, 21.62, None,
      None, None, None]

panel_curves = [[a1, a2, a3, a4, a5, a6],
                [b1, b2, b3, b4, b5, b6],
                [c1, c2, c3, c4, c5, c6]]
panel_labels = ["(a)", "(b)", "(c)"]
panel_colors = ["#F6C080", "#6AB04C", "#E088E8"]
y_ranges = [[20.595, 15.6], [24.79, 15.85], [22.09, 13.38]]
x_domains = [[0.0645, 0.3337], [0.3837, 0.6530], [0.7030, 0.9723]]
y_domain = [0.0821, 0.9708]

for curves in panel_curves:
    for c in curves:
        assert len(c) == len(phase), len(c)

fig = go.Figure()

tick_font = dict(family="DejaVu Sans", size=18, color="black")
axis_style = dict(showline=True, linecolor="black", linewidth=1.3, mirror=True,
                  ticks="outside", ticklen=7, tickwidth=1.3, tickcolor="black",
                  showgrid=False, zeroline=False, tickfont=tick_font)

for i, curves in enumerate(panel_curves):
    sfx = "" if i == 0 else str(i + 1)
    for c in curves:
        fig.add_trace(go.Scatter(x=phase, y=c, mode="markers",
                                 marker=dict(size=4, color=panel_colors[i]),
                                 xaxis="x" + sfx, yaxis="y" + sfx,
                                 showlegend=False, hoverinfo="skip"))
    fig.layout["xaxis" + sfx] = dict(
        domain=x_domains[i], anchor="y" + sfx, range=[-0.1, 2.135],
        tickvals=[0, 0.5, 1.0, 1.5, 2.0], tickformat=".1f",
        title=dict(text="Φ", font=tick_font, standoff=8), **axis_style)
    fig.layout["yaxis" + sfx] = dict(
        domain=y_domain, anchor="x" + sfx, range=y_ranges[i], dtick=1,
        title=dict(text="L(mag)", font=tick_font, standoff=8), **axis_style)
    fig.add_annotation(text=panel_labels[i], xref="x" + sfx, yref="paper",
                       x=0.97, y=0.948, showarrow=False,
                       xanchor="center", yanchor="middle",
                       font=dict(family="Liberation Serif", size=38, color="black"))

fig.update_layout(width=1660, height=1096, plot_bgcolor="white",
                  paper_bgcolor="white", margin=dict(l=0, r=0, t=0, b=0))

fig.write_html("out.html")
